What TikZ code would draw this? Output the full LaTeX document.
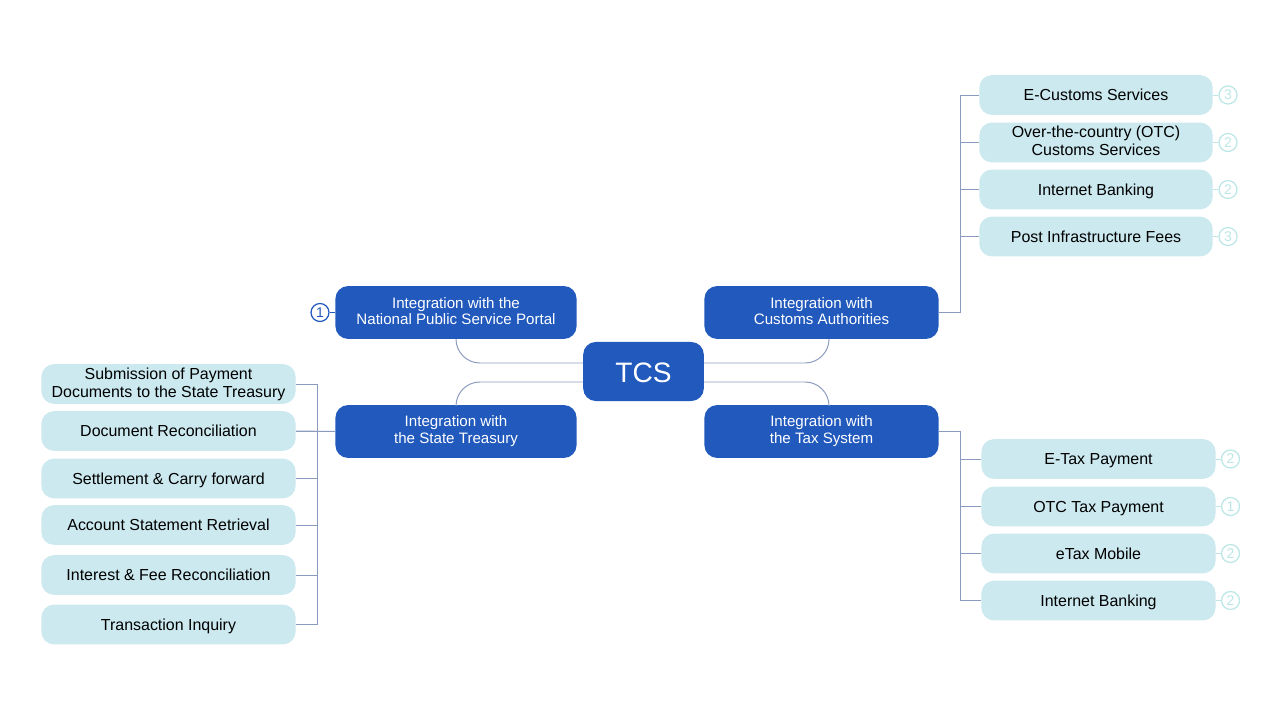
\documentclass[tikz,border=0pt]{standalone}
\usepackage{fontspec}
\setmainfont{Liberation Sans}
\usepackage{xcolor}
\usetikzlibrary{calc}
\definecolor{tcsblue}{HTML}{2159BD}
\definecolor{leafteal}{HTML}{CBE9EF}
\definecolor{wiregray}{HTML}{8A9BBF}
\definecolor{badgeteal}{HTML}{BCE7E6}
\newcommand{\linestrut}{\rule[-0.18\baselineskip]{0pt}{\baselineskip}}
\tikzset{
  hub/.style={
    fill=tcsblue,
    text=white,
    rounded corners=9pt,
    align=center,
    inner sep=0pt,
    minimum height=37.6pt,
    execute at begin node=\linestrut,
    execute at end node=\linestrut,
    font=\fontsize{10.75}{12}\selectfont},
  leaf/.style={
    fill=leafteal,
    text=black,
    rounded corners=9pt,
    align=center,
    inner sep=0pt,
    minimum height=28.3pt,
    execute at begin node=\linestrut,
    execute at end node=\linestrut,
    font=\fontsize{11.35}{12.8}\selectfont},
  badge/.style={
    circle,
    draw=badgeteal,
    text=badgeteal,
    line width=0.9pt,
    fill=white,
    inner sep=0pt,
    minimum size=12.8pt,
    font=\fontsize{10}{11}\selectfont},
  wire/.style={
    draw=wiregray,
    line width=0.7pt}
  }

\begin{document}
\begin{tikzpicture}[x=0.025cm,y=-0.025cm]
      \useasboundingbox (0,0) rectangle (1280,720);
      \coordinate (ltop) at (317,384);
      \coordinate (lbot) at (317,624.5);
      \coordinate (rtop) at (960,95);
      \coordinate (rbot) at (960,600.5);
      \coordinate (tcsnw) at (583,363);
      \coordinate (tcsne) at (704,363);
      \coordinate (tcssw) at (583,382);
      \coordinate (tcsse) at (704,382);
      \coordinate (customsb) at (829,339);
      \coordinate (taxt) at (829,405);

      \node [hub,minimum width=85.8pt,minimum height=42pt,font=\fontsize{20}{24}\selectfont] (tcs) at (643.5,371.5) {TCS};
      \node [hub,minimum width=171.5pt] (portal) at (456,312.5) {Integration with the\\National Public Service Portal};
      \node [hub,minimum width=166.5pt] (customs) at (821.5,312.5) {Integration with\\Customs Authorities};
      \node [hub,minimum width=171.5pt] (treasury) at (456,431.5) {Integration with\\the State Treasury};
      \node [hub,minimum width=166.5pt] (tax) at (821.5,431.5) {Integration with\\the Tax System};

      \node [leaf,minimum width=180.8pt] (submit) at (168.5,384) {Submission of Payment\\Documents to the State Treasury};
      \node [leaf,minimum width=180.8pt] (recon) at (168.5,431) {Document Reconciliation};
      \node [leaf,minimum width=180.8pt] (settle) at (168.5,478.5) {Settlement \& Carry forward};
      \node [leaf,minimum width=180.8pt] (statement) at (168.5,525) {Account Statement Retrieval};
      \node [leaf,minimum width=180.8pt] (interest) at (168.5,575) {Interest \& Fee Reconciliation};
      \node [leaf,minimum width=180.8pt] (inquiry) at (168.5,624.5) {Transaction Inquiry};

      \node [leaf,minimum width=166pt] (ecustoms) at (1096,95) {E-Customs Services};
      \node [leaf,minimum width=166pt] (otc) at (1096,142.5) {Over-the-country (OTC)\\Customs Services};
      \node [leaf,minimum width=166pt] (bankone) at (1096,189.5) {Internet Banking};
      \node [leaf,minimum width=166pt] (post) at (1096,236.5) {Post Infrastructure Fees};

      \node [leaf,minimum width=166.5pt] (etax) at (1098.5,459) {E-Tax Payment};
      \node [leaf,minimum width=166.5pt] (otctax) at (1098.5,506.5) {OTC Tax Payment};
      \node [leaf,minimum width=166.5pt] (mobile) at (1098.5,553.5) {eTax Mobile};
      \node [leaf,minimum width=166.5pt] (banktwo) at (1098.5,600.5) {Internet Banking};

      \node [badge,draw=tcsblue,text=tcsblue] (bportal) at (320,312.5) {1};
      \node [badge] (becustoms) at (1228,95) {3};
      \node [badge] (botc) at (1228,142.5) {2};
      \node [badge] (bbankone) at (1228,189.5) {2};
      \node [badge] (bpost) at (1228,236.5) {3};
      \node [badge] (betax) at (1230.5,459) {2};
      \node [badge] (botctax) at (1230.5,506.5) {1};
      \node [badge] (bmobile) at (1230.5,553.5) {2};
      \node [badge] (bbanktwo) at (1230.5,600.5) {2};

      \draw [wire,rounded corners=17pt] (tcsnw) -| (portal.south);
      \draw [wire,rounded corners=17pt] (tcssw) -| (treasury.north);
      \draw [wire,rounded corners=17pt] (tcsne) -| (customsb);
      \draw [wire,rounded corners=17pt] (tcsse) -| (taxt);

      \draw [wire] (customs.east) -| (rtop);
      \draw [wire] (tax.east) -| (rbot);
      \draw [wire] (ltop) -- (lbot);
      \draw [wire] (treasury.west) -- (recon.east);
      \draw [wire,draw=tcsblue] (bportal) -- (portal.west);
      \foreach \n in {submit,recon,settle,statement,interest,inquiry}
        \draw [wire] (\n.east) -- (\n.east -| ltop);
      \foreach \n in {ecustoms,otc,bankone,post,etax,otctax,mobile,banktwo}
        \draw [wire] (\n.west) -- (\n.west -| rtop);
      \foreach \n in {ecustoms,otc,bankone,post,etax,otctax,mobile,banktwo}
        \draw [wire,draw=badgeteal] (\n.east) -- (b\n);
    \end{tikzpicture}
\end{document}
